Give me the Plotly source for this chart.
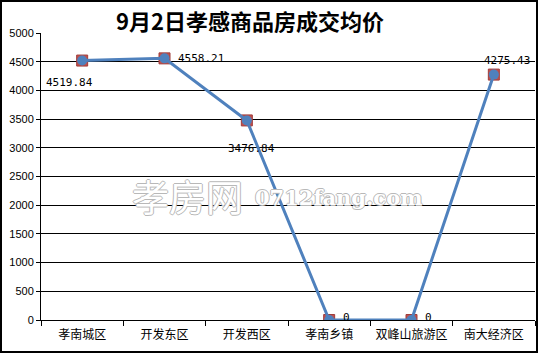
import plotly.graph_objects as go

categories = ["孝南城区", "开发东区", "开发西区", "孝南乡镇", "双峰山旅游区", "南大经济区"]
prices = [4519.84, 4558.21, 3476.84, 0, 0, 4275.43]
price_labels = ["4519.84", "4558.21", "3476.84", "0", "0", "4275.43"]
# label offsets (px) relative to each point
label_dx = [-13, 36, 5, 17, 17, 13]
label_dy = [-22, 0, -28, 3, 3, 14]
y_ticks = list(range(0, 5001, 500))
title_text = "9月2日孝感商品房成交均价"

W, H = 538, 353
ml, mr, mt, mb = 41, 3, 33, 33
pw, ph = W - ml - mr, H - mt - mb

fig = go.Figure()
fig.add_trace(go.Scatter(
    x=categories, y=prices, mode="markers",
    marker=dict(symbol="square", size=11, color="#C0504D",
                line=dict(color="#A03C3A", width=1)),
    hoverinfo="skip", showlegend=False))
fig.add_trace(go.Scatter(
    x=categories, y=prices, mode="lines+markers",
    line=dict(color="#4F81BD", width=3),
    marker=dict(symbol="circle", size=10, color="#4F81BD"),
    showlegend=False))

annotations = []
for c, v, t, dx, dy in zip(categories, prices, price_labels, label_dx, label_dy):
    annotations.append(dict(
        x=c, y=v, xref="x", yref="y", text=t, showarrow=False,
        xshift=dx, yshift=dy,
        font=dict(family="DejaVu Sans Mono, Liberation Mono, monospace", size=11, color="#000")))

annotations.append(dict(
    x=(250 - ml) / pw, y=(H - mb - 20) / ph, xref="paper", yref="paper",
    text="<b>" + title_text + "</b>", showarrow=False, xanchor="center", yanchor="middle",
    font=dict(family="Noto Sans CJK SC", size=22, color="#000")))

outline = "1px 0 #b8b8b8, -1px 0 #b8b8b8, 0 1px #b8b8b8, 0 -1px #b8b8b8"
annotations.append(dict(
    x=(130 - ml) / pw, y=(H - mb - 196) / ph, xref="paper", yref="paper",
    text="孝房网", showarrow=False, xanchor="left", yanchor="middle",
    font=dict(family="Noto Sans CJK SC", size=37, color="#ffffff", shadow=outline)))
annotations.append(dict(
    x=(253 - ml) / pw, y=(H - mb - 198) / ph, xref="paper", yref="paper",
    text="<b>0712fang.com</b>", showarrow=False, xanchor="left", yanchor="middle",
    font=dict(family="DejaVu Serif", size=21, color="#ffffff", shadow=outline)))

fig.update_layout(
    width=W, height=H,
    margin=dict(l=ml, r=mr, t=mt, b=mb, pad=0, autoexpand=False),
    paper_bgcolor="white", plot_bgcolor="white",
    annotations=annotations,
    shapes=[dict(type="rect", xref="paper", yref="paper",
                 x0=(1 - ml) / pw, x1=(W - 1 - ml) / pw,
                 y0=-(mb - 1) / ph, y1=(ph + mt - 1) / ph,
                 line=dict(color="#000", width=2), fillcolor="rgba(0,0,0,0)")],
    xaxis=dict(type="category", range=[-0.5, 5.5], tickson="boundaries",
               ticks="outside", ticklen=5, tickcolor="#000", tickangle=0,
               automargin=False, ticklabelstandoff=4,
               showline=True, linecolor="#000", linewidth=1,
               showgrid=False, zeroline=False,
               tickfont=dict(family="Noto Sans CJK SC", size=12, color="#000")),
    yaxis=dict(range=[0, 5000], tickvals=y_ticks, ticks="outside", ticklen=4,
               tickcolor="#000", showline=True, linecolor="#000", linewidth=1,
               automargin=False,
               showgrid=True, gridcolor="#000", gridwidth=1, zeroline=False,
               tickfont=dict(family="Liberation Sans, Arial", size=11, color="#000")),
)

fig.write_html("out.html")
